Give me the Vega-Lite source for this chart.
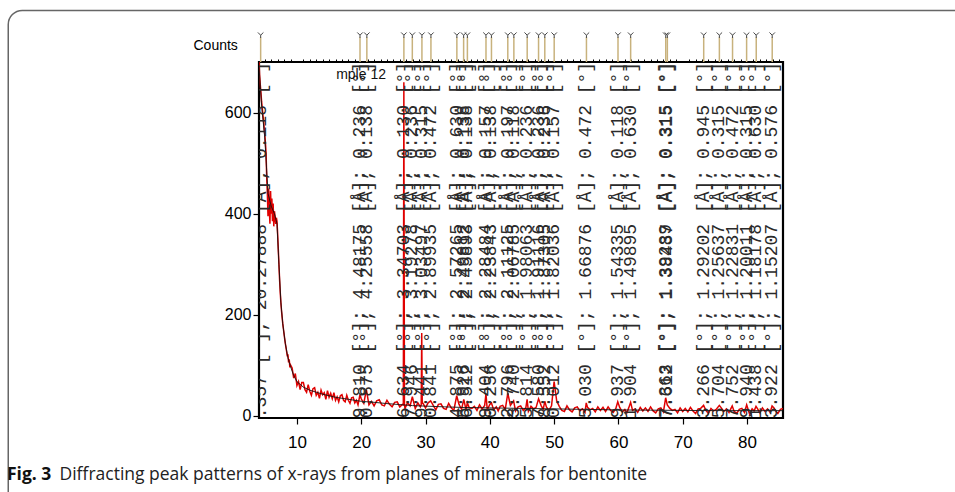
{
  "$schema": "https://vega.github.io/schema/vega-lite/v6.json",
  "width": 524,
  "height": 356,
  "autosize": {"type": "none"},
  "padding": {"left": 259, "top": 62, "right": 172, "bottom": 74},
  "background": "white",
  "config": {"view": {"stroke": "black", "strokeWidth": 2.2}, "font": "Liberation Sans"},
  "title": {"text": "Fig. 3", "orient": "bottom", "anchor": "start", "frame": "group", "dx": -252, "offset": -31, "baseline": "alphabetic", "font": "Open Sans", "fontSize": 17.5, "fontWeight": "bold", "color": "#111"},
  "resolve": {"axis": {"x": "independent", "y": "independent"}},
  "datasets": {
    "xrd": [
      {"x":4.1,"c":700},{"x":4.2,"c":672},{"x":4.3,"c":655},{"x":4.4,"c":640},{"x":4.5,"c":622},{"x":4.6,"c":610},{"x":4.7,"c":596},{"x":4.8,"c":585},{"x":4.9,"c":570},{"x":5.0,"c":556},
      {"x":5.1,"c":540},{"x":5.2,"c":520},{"x":5.3,"c":470},{"x":5.4,"c":440},{"x":5.5,"c":395},{"x":5.6,"c":450},{"x":5.7,"c":410},{"x":5.8,"c":380},{"x":5.9,"c":445},{"x":6.0,"c":400},
      {"x":6.1,"c":430},{"x":6.2,"c":385},{"x":6.3,"c":420},{"x":6.4,"c":375},{"x":6.5,"c":405},{"x":6.6,"c":395},{"x":6.7,"c":380},{"x":6.8,"c":392},{"x":6.9,"c":385},{"x":7.0,"c":360},
      {"x":7.1,"c":330},{"x":7.2,"c":300},{"x":7.3,"c":270},{"x":7.4,"c":245},{"x":7.5,"c":225},{"x":7.6,"c":208},{"x":7.7,"c":195},{"x":7.8,"c":182},{"x":7.9,"c":172},{"x":8.0,"c":162},
      {"x":8.1,"c":152},{"x":8.2,"c":143},{"x":8.3,"c":135},{"x":8.4,"c":127},{"x":8.5,"c":118},{"x":8.6,"c":122},{"x":8.7,"c":106},{"x":8.8,"c":112},{"x":8.9,"c":96},{"x":9.0,"c":101},
      {"x":9.25,"c":95},{"x":9.5,"c":75},{"x":9.75,"c":84},{"x":10.0,"c":60},{"x":10.25,"c":68},{"x":10.5,"c":52},{"x":10.75,"c":66},{"x":11.0,"c":66},{"x":11.25,"c":52},{"x":11.5,"c":47},
      {"x":11.75,"c":62},{"x":12.0,"c":49},{"x":12.25,"c":41},{"x":12.5,"c":54},{"x":12.75,"c":56},{"x":13.0,"c":41},{"x":13.25,"c":47},{"x":13.5,"c":35},{"x":13.75,"c":51},{"x":14.0,"c":42},
      {"x":14.25,"c":46},{"x":14.5,"c":33},{"x":14.75,"c":50},{"x":15.0,"c":37},{"x":15.25,"c":45},{"x":15.5,"c":34},{"x":15.75,"c":46},{"x":16.0,"c":31},{"x":16.25,"c":38},{"x":16.5,"c":28},
      {"x":16.75,"c":40},{"x":17.0,"c":42},{"x":17.25,"c":31},{"x":17.5,"c":28},{"x":17.75,"c":41},{"x":18.0,"c":31},{"x":18.25,"c":25},{"x":18.5,"c":36},{"x":18.75,"c":37},{"x":19.0,"c":26},
      {"x":19.25,"c":31},{"x":19.5,"c":22},{"x":19.8,"c":42},{"x":20.0,"c":34},{"x":20.4,"c":25},{"x":20.8,"c":52},{"x":21.2,"c":22},{"x":21.6,"c":29},{"x":22.0,"c":20},{"x":22.4,"c":30},
      {"x":22.8,"c":32},{"x":23.2,"c":22},{"x":23.6,"c":20},{"x":24.0,"c":31},{"x":24.4,"c":23},{"x":24.8,"c":18},{"x":25.2,"c":27},{"x":25.6,"c":28},{"x":26.0,"c":18},{"x":26.4,"c":23},
      {"x":26.55,"c":22},{"x":26.63,"c":660},{"x":26.72,"c":24},{"x":26.8,"c":15},{"x":27.2,"c":26},{"x":27.6,"c":20},{"x":27.95,"c":38},{"x":28.4,"c":15},{"x":28.8,"c":26},{"x":29.2,"c":18},
      {"x":29.33,"c":22},{"x":29.41,"c":164},{"x":29.49,"c":25},{"x":29.6,"c":25},{"x":30.0,"c":16},{"x":30.4,"c":26},{"x":30.8,"c":30},{"x":31.2,"c":21},{"x":31.6,"c":12},{"x":32.0,"c":23},
      {"x":32.4,"c":24},{"x":32.8,"c":15},{"x":33.2,"c":13},{"x":33.6,"c":25},{"x":34.0,"c":16},{"x":34.4,"c":11},{"x":34.85,"c":40},{"x":35.2,"c":23},{"x":35.6,"c":13},{"x":35.95,"c":33},
      {"x":36.3,"c":12},{"x":36.5,"c":26},{"x":36.8,"c":16},{"x":37.2,"c":15},{"x":37.6,"c":19},{"x":38.0,"c":11},{"x":38.4,"c":22},{"x":38.8,"c":14},{"x":39.2,"c":21},{"x":39.4,"c":44},
      {"x":39.6,"c":12},{"x":40.0,"c":23},{"x":40.25,"c":26},{"x":40.6,"c":12},{"x":41.0,"c":18},{"x":41.3,"c":10},{"x":41.6,"c":19},{"x":42.0,"c":21},{"x":42.4,"c":13},{"x":42.8,"c":45},
      {"x":43.2,"c":21},{"x":43.7,"c":30},{"x":44.0,"c":10},{"x":44.4,"c":18},{"x":44.8,"c":20},{"x":45.2,"c":11},{"x":45.6,"c":16},{"x":45.8,"c":33},{"x":46.0,"c":9},{"x":46.4,"c":19},
      {"x":46.8,"c":14},{"x":47.2,"c":17},{"x":47.58,"c":34},{"x":48.0,"c":20},{"x":48.3,"c":13},{"x":48.55,"c":29},{"x":48.8,"c":18},{"x":49.2,"c":11},{"x":49.6,"c":20},{"x":50.0,"c":68},
      {"x":50.4,"c":30},{"x":50.8,"c":19},{"x":51.2,"c":11},{"x":51.6,"c":9},{"x":52.0,"c":20},{"x":52.4,"c":12},{"x":52.8,"c":8},{"x":53.2,"c":16},{"x":53.6,"c":18},{"x":54.0,"c":10},
      {"x":54.4,"c":14},{"x":54.8,"c":7},{"x":55.0,"c":26},{"x":55.2,"c":17},{"x":55.6,"c":12},{"x":56.0,"c":15},{"x":56.4,"c":8},{"x":56.8,"c":18},{"x":57.2,"c":11},{"x":57.6,"c":17},
      {"x":58.0,"c":9},{"x":58.4,"c":18},{"x":58.8,"c":11},{"x":59.2,"c":7},{"x":59.6,"c":15},{"x":59.9,"c":28},{"x":60.2,"c":17},{"x":60.6,"c":8},{"x":61.0,"c":13},{"x":61.3,"c":6},
      {"x":61.6,"c":16},{"x":61.9,"c":27},{"x":62.2,"c":11},{"x":62.6,"c":14},{"x":63.0,"c":7},{"x":63.4,"c":17},{"x":63.8,"c":10},{"x":64.2,"c":16},{"x":64.6,"c":9},{"x":65.0,"c":18},
      {"x":65.4,"c":10},{"x":65.8,"c":6},{"x":66.2,"c":14},{"x":66.6,"c":16},{"x":67.0,"c":8},{"x":67.35,"c":36},{"x":67.6,"c":22},{"x":68.0,"c":15},{"x":68.4,"c":11},{"x":68.8,"c":13},
      {"x":69.2,"c":6},{"x":69.6,"c":16},{"x":70.0,"c":9},{"x":70.4,"c":15},{"x":70.8,"c":8},{"x":71.2,"c":17},{"x":71.6,"c":10},{"x":72.0,"c":5},{"x":72.4,"c":14},{"x":72.8,"c":15},
      {"x":73.25,"c":21},{"x":73.6,"c":11},{"x":74.0,"c":5},{"x":74.4,"c":15},{"x":74.8,"c":10},{"x":75.2,"c":13},{"x":75.7,"c":21},{"x":76.0,"c":16},{"x":76.4,"c":9},{"x":76.8,"c":14},
      {"x":77.2,"c":7},{"x":77.7,"c":20},{"x":78.0,"c":9},{"x":78.4,"c":5},{"x":78.8,"c":13},{"x":79.2,"c":15},{"x":79.6,"c":7},{"x":79.95,"c":22},{"x":80.4,"c":4},{"x":80.8,"c":14},
      {"x":81.1,"c":10},{"x":81.4,"c":19},{"x":81.7,"c":13},{"x":82.0,"c":6},{"x":82.4,"c":16},{"x":82.8,"c":9},{"x":83.2,"c":14},{"x":83.6,"c":7},{"x":83.9,"c":20},{"x":84.2,"c":16},
      {"x":84.5,"c":9},{"x":84.8,"c":5},{"x":85.2,"c":13},{"x":85.6,"c":15}
    ],
    "fit": [
      {"x":4.1,"c":690},{"x":4.5,"c":615},{"x":5.0,"c":550},{"x":5.5,"c":440},{"x":6.0,"c":415},{"x":6.5,"c":400},{"x":6.9,"c":380},{"x":7.2,"c":300},{"x":7.5,"c":225},{"x":7.8,"c":182},
      {"x":8.2,"c":143},{"x":8.6,"c":115},{"x":9.0,"c":98},{"x":9.5,"c":80},{"x":10,"c":68},{"x":11,"c":57},{"x":12,"c":51},{"x":13,"c":47},{"x":14,"c":43},{"x":15,"c":40},
      {"x":16,"c":37},{"x":18,"c":33},{"x":20,"c":29},{"x":22,"c":27},{"x":24,"c":24.5},{"x":26,"c":22.5},{"x":28,"c":20.5},{"x":30,"c":19.5},{"x":33,"c":18},{"x":36,"c":16.8},
      {"x":40,"c":16},{"x":45,"c":15},{"x":50,"c":14},{"x":55,"c":13},{"x":60,"c":12},{"x":65,"c":11.5},{"x":70,"c":11},{"x":75,"c":10.7},{"x":80,"c":10.5},{"x":85.6,"c":10.5}
    ],
    "peaks": [
      {"x":4.357,"label":"4.357 [°]; 20.27888 [Å]; 0.118 [°]"},
      {"x":19.81,"label":"19.810 [°]; 4.48175 [Å]; 0.236 [°]"},
      {"x":20.875,"label":"20.875 [°]; 4.25558 [Å]; 0.138 [°]"},
      {"x":26.634,"label":"26.634 [°]; 3.34703 [Å]; 0.130 [°]"},
      {"x":27.946,"label":"27.946 [°]; 3.19278 [Å]; 0.236 [°]"},
      {"x":29.441,"label":"29.441 [°]; 3.03497 [Å]; 0.315 [°]"},
      {"x":30.841,"label":"30.841 [°]; 2.89935 [Å]; 0.472 [°]"},
      {"x":34.875,"label":"34.875 [°]; 2.57265 [Å]; 0.630 [°]"},
      {"x":35.926,"label":"35.926 [°]; 2.49812 [Å]; 0.138 [°]"},
      {"x":36.512,"label":"36.512 [°]; 2.45893 [Å]; 0.138 [°]"},
      {"x":39.404,"label":"39.404 [°]; 2.28484 [Å]; 0.157 [°]"},
      {"x":40.256,"label":"40.256 [°]; 2.23843 [Å]; 0.138 [°]"},
      {"x":42.796,"label":"42.796 [°]; 2.11125 [Å]; 0.197 [°]"},
      {"x":43.74,"label":"43.740 [°]; 2.06785 [Å]; 0.118 [°]"},
      {"x":45.814,"label":"45.814 [°]; 1.98063 [Å]; 0.236 [°]"},
      {"x":47.58,"label":"47.580 [°]; 1.91116 [Å]; 0.236 [°]"},
      {"x":48.552,"label":"48.552 [°]; 1.87305 [Å]; 0.236 [°]"},
      {"x":50.012,"label":"50.012 [°]; 1.82036 [Å]; 0.157 [°]"},
      {"x":55.03,"label":"55.030 [°]; 1.66876 [Å]; 0.472 [°]"},
      {"x":59.937,"label":"59.937 [°]; 1.54335 [Å]; 0.118 [°]"},
      {"x":61.904,"label":"61.904 [°]; 1.49895 [Å]; 0.630 [°]"},
      {"x":67.363,"label":"67.363 [°]; 1.39289 [Å]; 0.315 [°]"},
      {"x":67.612,"label":"67.612 [°]; 1.38437 [Å]; 0.315 [°]"},
      {"x":73.266,"label":"73.266 [°]; 1.29202 [Å]; 0.945 [°]"},
      {"x":75.704,"label":"75.704 [°]; 1.25637 [Å]; 0.315 [°]"},
      {"x":77.752,"label":"77.752 [°]; 1.22831 [Å]; 0.472 [°]"},
      {"x":79.94,"label":"79.940 [°]; 1.20011 [Å]; 0.315 [°]"},
      {"x":81.438,"label":"81.438 [°]; 1.18178 [Å]; 0.630 [°]"},
      {"x":83.922,"label":"83.922 [°]; 1.15207 [Å]; 0.576 [°]"}
    ]
  },
  "layer": [
    {
      "data": {"values": [{}]},
      "mark": {"type": "rect", "filled": false, "stroke": "#666", "strokeWidth": 1.5, "cornerRadius": 14, "clip": false},
      "encoding": {
        "x": {"datum": -34.9, "type": "quantitative", "scale": {"domain": [4.1, 85.6], "nice": false, "zero": false}, "axis": null},
        "x2": {"datum": 115.5},
        "y": {"datum": 802, "type": "quantitative", "scale": {"domain": [-4, 700], "nice": false, "zero": false}, "axis": null},
        "y2": {"datum": -186}
      }
    },
    {
      "data": {"name": "xrd"},
      "mark": {"type": "line", "color": "#e00000", "strokeWidth": 1.5, "clip": true},
      "encoding": {
        "x": {
          "field": "x", "type": "quantitative",
          "axis": {
            "title": "Diffracting peak patterns of x-rays from planes of minerals for bentonite",
            "titleFont": "Open Sans", "titleFontSize": 17.5, "titleFontWeight": "normal", "titleColor": "#222",
            "titleX": -200, "titleY": 61, "titleAlign": "left", "titleAnchor": "start", "titleBaseline": "alphabetic",
            "values": [10, 20, 30, 40, 50, 60, 70, 80],
            "tickSize": 6, "tickColor": "black", "tickWidth": 1.2,
            "labelFont": "Liberation Sans Narrow, Liberation Sans", "labelFontSize": 17, "labelColor": "black",
            "labelPadding": 10, "labelOverlap": false, "labelFlush": false, "grid": false, "domain": false
          }
        },
        "y": {
          "field": "c", "type": "quantitative",
          "axis": {
            "title": "Counts", "titleAngle": 0, "titleX": -66, "titleY": -17, "titleAlign": "left", "titleBaseline": "middle",
            "titleFont": "Liberation Sans Narrow, Liberation Sans", "titleFontSize": 14, "titleFontWeight": "normal", "titleColor": "black",
            "values": [0, 200, 400, 600], "tickSize": 6, "tickColor": "black", "tickWidth": 1.2,
            "labelFont": "Liberation Sans Narrow, Liberation Sans", "labelFontSize": 16, "labelColor": "black", "labelPadding": 2,
            "grid": false, "domain": false
          }
        }
      }
    },
    {
      "data": {"name": "fit"},
      "mark": {"type": "line", "color": "#111111", "strokeWidth": 0.9, "clip": true},
      "encoding": {
        "x": {
          "field": "x", "type": "quantitative",
          "axis": {
            "title": null, "labels": false, "domain": false, "grid": false,
            "values": [5,6,7,8,9,11,12,13,14,15,16,17,18,19,21,22,23,24,25,26,27,28,29,31,32,33,34,35,36,37,38,39,41,42,43,44,45,46,47,48,49,51,52,53,54,55,56,57,58,59,61,62,63,64,65,66,67,68,69,71,72,73,74,75,76,77,78,79,81,82,83,84,85],
            "tickSize": 3, "tickColor": "black", "tickWidth": 1
          }
        },
        "y": {"field": "c", "type": "quantitative", "axis": null}
      }
    },
    {
      "data": {"name": "peaks"},
      "mark": {"type": "text", "angle": 270, "align": "left", "baseline": "middle", "font": "Liberation Mono", "fontSize": 18, "color": "#2a2a2a", "clip": true},
      "encoding": {
        "x": {"field": "x", "type": "quantitative", "axis": null},
        "y": {"datum": -26, "type": "quantitative", "axis": null},
        "text": {"field": "label"}
      }
    },
    {
      "data": {"name": "peaks"},
      "mark": {"type": "rule", "color": "#c8b27d", "strokeWidth": 1.5},
      "encoding": {
        "x": {"field": "x", "type": "quantitative", "axis": null},
        "y": {"datum": 700, "type": "quantitative", "axis": null},
        "y2": {"datum": 749}
      }
    },
    {
      "data": {"name": "peaks"},
      "mark": {"type": "point", "shape": "M-1,-1L0,0L1,-1M0,0L0,1", "filled": false, "size": 30, "stroke": "#444", "strokeWidth": 1, "opacity": 1},
      "encoding": {
        "x": {"field": "x", "type": "quantitative", "axis": null},
        "y": {"datum": 753, "type": "quantitative", "axis": null}
      }
    },
    {
      "data": {"values": [{"t": "mple 12"}]},
      "mark": {"type": "text", "align": "left", "baseline": "middle", "font": "Liberation Sans Narrow, Liberation Sans", "fontSize": 14, "color": "#111"},
      "encoding": {
        "x": {"datum": 16.1, "type": "quantitative", "axis": null},
        "y": {"datum": 674, "type": "quantitative", "axis": null},
        "text": {"field": "t"}
      }
    }
  ]
}
